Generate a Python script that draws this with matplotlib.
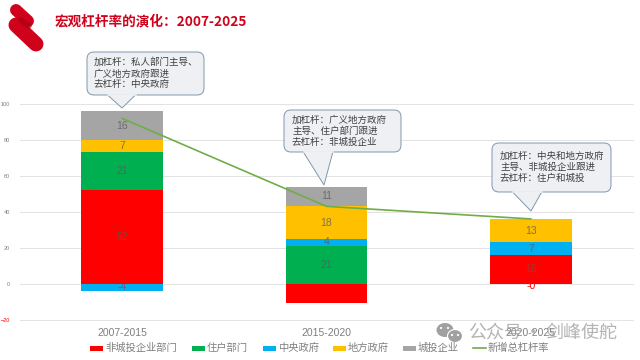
import numpy as np
import matplotlib
matplotlib.use('Agg')
import matplotlib.pyplot as plt
from matplotlib.patches import FancyBboxPatch, Polygon, Ellipse
from matplotlib.lines import Line2D

plt.rcParams['font.family'] = ['Noto Sans CJK SC', 'DejaVu Sans']

periods = ['2007-2015', '2015-2020', '2020-2025']
series_names = ['非城投企业部门', '住户部门', '中央政府', '地方政府', '城投企业']
series_colors = ['#ff0000', '#00b050', '#00b0f0', '#ffc000', '#a5a5a5']
non_lgfv = [52, -11, 16]
household = [21, 21, 0]
central = [-4, 4, 7]
local = [7, 18, 13]
lgfv = [16, 11, -0.4]
total = [92, 43, 36]
series_values = [non_lgfv, household, central, local, lgfv]
yticks = [-20, 0, 20, 40, 60, 80, 100]

notes = [
    '加杠杆：私人部门主导、\n广义地方政府跟进\n去杠杆：中央政府',
    '加杠杆：广义地方政府\n主导、住户部门跟进\n去杠杆：非城投企业',
    '加杠杆：中央和地方政府\n主导、非城投企业跟进\n去杠杆：住户和城投',
]

W, H = 640, 360
fig = plt.figure(figsize=(6.4, 3.6), dpi=100)

# plot area placed by pixel
ax = fig.add_axes([20 / W, 1 - 319.5 / H, 613 / W, (319.5 - 104) / H])
x = np.arange(len(periods))
pos = np.zeros(3)
neg = np.zeros(3)
for name, color, vals in zip(series_names, series_colors, series_values):
    vals = np.array(vals, dtype=float)
    bottom = np.where(vals >= 0, pos, neg)
    ax.bar(x, vals, 0.4, bottom=bottom, color=color, zorder=2)
    for i, v in enumerate(vals):
        if v == 0:
            continue
        # negatives are red in the source number format
        c = '#ff0000' if v < 0 else '#595959'
        a = 0.55 if v == -4 else (1 if v < 0 else 0.75)
        off = -1.2 if abs(v) < 1 else 0
        ax.text(x[i], bottom[i] + v / 2 + off, '%.0f' % v, ha='center', va='center',
                fontsize=7.5, color=c, alpha=a, zorder=3, family='Liberation Sans')
    pos = pos + np.where(vals > 0, vals, 0)
    neg = neg + np.where(vals < 0, vals, 0)
ax.plot(x, total, color='#70ad47', lw=1.2, zorder=4)

ax.set_xlim(-0.5, 2.5)
ax.set_ylim(-20, 100)
ax.set_yticks(yticks)
ax.set_xticks(x)
ax.set_xticklabels(periods, family='Liberation Sans')
ax.tick_params(axis='x', length=0, labelsize=7.5, labelcolor='#7f7f7f', pad=6)
ax.tick_params(axis='y', length=0, labelsize=4, pad=7)
for t, v in zip(ax.get_yticklabels(), yticks):
    t.set_color('#ff0000' if v < 0 else '#7f7f7f')
    t.set_family('Liberation Sans')
ax.grid(axis='y', color='#e3e3e3', lw=0.7, zorder=0)
for g in ax.get_ygridlines():
    g.set_clip_on(False)
for s in ax.spines.values():
    s.set_visible(False)
ax.patch.set_alpha(0)

# pixel overlay for title, logo, callouts, watermark
ov = fig.add_axes([0, 0, 1, 1], zorder=5)
ov.set_xlim(0, W)
ov.set_ylim(H, 0)
ov.axis('off')

ov.plot([16, 28], [10, 21], color='#d0021b', lw=8.6, solid_capstyle='round')
ov.plot([16, 36], [25, 44], color='#d0021b', lw=10.8, solid_capstyle='round')
ov.plot([21, 29], [20, 26], color='#a00012', lw=4, alpha=0.6, solid_capstyle='round')
ov.text(55, 21.5, '宏观杠杆率的演化：2007-2025', fontsize=9.8, fontweight='bold', color='#d0021b',
        ha='left', va='center')

boxes = [(87, 52, 117, 43, 107, 136, 122, 108, 94),
         (284, 110, 117, 42, 303, 333, 324, 185, 292),
         (492, 143, 119, 49, 512, 542, 531, 211, 500)]
for note, (bx, by, bw, bh, t1, t2, tipx, tipy, tx) in zip(notes, boxes):
    ov.add_patch(FancyBboxPatch((bx, by), bw, bh, boxstyle='round,pad=0,rounding_size=7',
                                fc='#eef0f3', ec='#7f98ad', lw=0.7, zorder=6))
    ov.add_patch(Polygon([(t1, by + bh - 0.5), (tipx, tipy), (t2, by + bh - 0.5)], closed=False,
                         fc='#eef0f3', ec='#7f98ad', lw=0.7, zorder=7))
    ov.plot([t1 + 0.5, t2 - 0.5], [by + bh, by + bh], color='#eef0f3', lw=1.2, zorder=8)
    ov.text(tx, by + bh / 2, note, fontsize=6.85, color='#404040', ha='left', va='center',
            linespacing=1.25, zorder=9)

# legend drawn by hand so spacing follows the reference
leg_x = [90, 192, 263, 333, 403]
for lx, name, color in zip(leg_x, series_names, series_colors):
    ov.add_patch(plt.Rectangle((lx, 345.5), 13, 5, color=color, lw=0))
    ov.text(lx + 15, 348, name, fontsize=7.4, color='#7f7f7f', ha='left', va='center')
ov.add_line(Line2D([473, 486], [348, 348], color='#70ad47', lw=1.2))
ov.text(488, 348, '新增总杠杆率', fontsize=7.4, color='#7f7f7f', ha='left', va='center')

# watermark
ov.add_patch(Ellipse((445, 330), 17, 14, color='#a0a0a0', lw=0))
ov.add_patch(Ellipse((455, 336), 15, 13, fc='#a0a0a0', ec='white', lw=0.8))
for ex, ey in [(441, 328), (448, 328), (452, 335), (458, 335)]:
    ov.add_patch(Ellipse((ex, ey), 2.2, 2.2, color='white', lw=0))
ov.text(468, 333, '公众号', fontsize=13, color='#9a9a9a', alpha=0.75, ha='left', va='center')
ov.text(533, 333, '·', fontsize=13, color='#9a9a9a', alpha=0.75, ha='center', va='center')
ov.text(545, 333, '剑峰使舵', fontsize=13, color='#9a9a9a', alpha=0.75, ha='left', va='center')

fig.savefig('out.png', dpi=100)
plt.close()
